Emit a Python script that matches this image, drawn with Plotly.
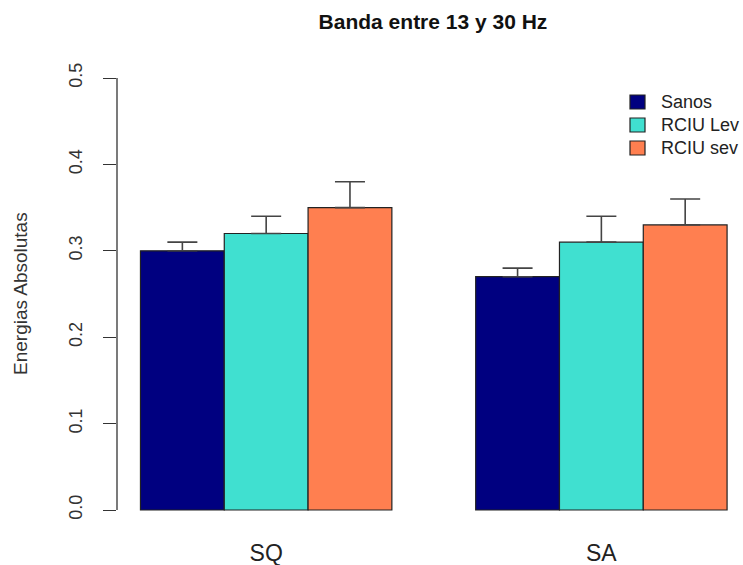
import plotly.graph_objects as go

# Band energy means and upper standard errors per group
conditions = ["SQ", "SA"]
groups = ["Sanos", "RCIU Lev", "RCIU sev"]
means = {
    "Sanos": [0.30, 0.27],
    "RCIU Lev": [0.32, 0.31],
    "RCIU sev": [0.35, 0.33],
}
errors = {
    "Sanos": [0.01, 0.01],
    "RCIU Lev": [0.02, 0.03],
    "RCIU sev": [0.03, 0.03],
}
colors = {"Sanos": "#000080", "RCIU Lev": "#40E0D0", "RCIU sev": "#FF7F50"}
y_ticks = [0.0, 0.1, 0.2, 0.3, 0.4, 0.5]

FONT = "Liberation Sans, Arial, sans-serif"
W, H = 743, 565

fig = go.Figure()
for g in groups:
    fig.add_trace(go.Bar(
        name=g,
        x=conditions,
        y=means[g],
        marker=dict(color=colors[g], line=dict(color="#222222", width=1.2)),
        error_y=dict(type="data", array=errors[g], symmetric=False,
                     arrayminus=[0, 0], color="#444444", thickness=1.6, width=15),
        showlegend=False,
    ))

fig.update_layout(
    width=W, height=H,
    paper_bgcolor="white", plot_bgcolor="white",
    barmode="group", bargap=0.25, bargroupgap=0,
    margin=dict(l=117, r=0, t=60, b=45, autoexpand=False),
    font=dict(family=FONT, color="#222222"),
    title=dict(text="<b>Banda entre 13 y 30 Hz</b>", x=433 / W, xanchor="center",
               y=1 - 22 / H, yanchor="middle", font=dict(size=21, color="#111111")),
    xaxis=dict(type="category", range=[-0.445, 1.4225], showline=False,
               showgrid=False, ticks="", automargin=False,
               ticklabelstandoff=17,
               tickfont=dict(size=23, color="#222222"), zeroline=False),
    yaxis=dict(range=[-10 / 864, 0.5 + 18 / 864], tickvals=y_ticks,
               ticktext=[f"{v:.1f}" for v in y_ticks], showline=False, showgrid=False,
               zeroline=False, ticks="outside", ticklen=13, tickwidth=1.3,
               tickcolor="#333333", tickangle=-90, tickfont=dict(size=18, color="#333333"),
               ticklabelstandoff=14, automargin=False),
)

# R-style y axis line spanning only the tick range
fig.add_shape(type="line", xref="paper", yref="y", x0=0, x1=0,
              y0=y_ticks[0], y1=y_ticks[-1], line=dict(color="#333333", width=1.3))

fig.add_annotation(text="Energias Absolutas", xref="paper", yref="paper",
                   x=-97 / 626, y=(520 - 294) / 460, xanchor="center", yanchor="middle",
                   textangle=-90, showarrow=False, font=dict(size=19, color="#333333"))

# Legend box in the top-right corner: filled keys with labels
row_px = [102, 125, 148]
for g, cy in zip(groups, row_px):
    fig.add_shape(type="rect", xref="paper", yref="paper",
                  x0=(630 - 117) / 626, x1=(645 - 117) / 626,
                  y0=(H - 45 - (cy + 7)) / 460, y1=(H - 45 - (cy - 7)) / 460,
                  fillcolor=colors[g], line=dict(color="#222222", width=1.2))
    fig.add_annotation(text=g, xref="paper", yref="paper",
                       x=(659 - 117) / 626, y=(H - 45 - cy) / 460,
                       xanchor="left", yanchor="middle", showarrow=False,
                       font=dict(size=18, color="#222222"))

fig.write_html("out.html")
